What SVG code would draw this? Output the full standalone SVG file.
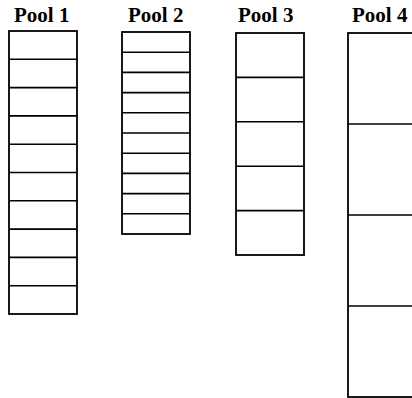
<svg xmlns="http://www.w3.org/2000/svg" width="412" height="398" viewBox="0 0 412 398">
<style>
.lbl{font-family:"Liberation Serif","Times New Roman",serif;font-weight:bold;font-size:21px;fill:#000}
.box{fill:none;stroke:#000;stroke-width:1.8}
.div{stroke:#000;stroke-width:1.6}
</style>
<rect width="412" height="398" fill="#fff"/>
<g id="pool1">
<text class="lbl" x="14" y="22">Pool 1</text>
<rect class="box" x="9" y="31" width="68" height="283"/>
<path class="div" d="M9 59.3H77M9 87.6H77M9 115.9H77M9 144.2H77M9 172.5H77M9 200.8H77M9 229.1H77M9 257.4H77M9 285.7H77"/>
</g>
<g id="pool2">
<text class="lbl" x="128" y="22">Pool 2</text>
<rect class="box" x="122" y="32" width="68" height="202"/>
<path class="div" d="M122 52.2H190M122 72.4H190M122 92.6H190M122 112.8H190M122 133H190M122 153.2H190M122 173.4H190M122 193.6H190M122 213.8H190"/>
</g>
<g id="pool3">
<text class="lbl" x="238" y="22">Pool 3</text>
<rect class="box" x="236" y="33" width="68" height="222"/>
<path class="div" d="M236 77.4H304M236 121.8H304M236 166.2H304M236 210.6H304"/>
</g>
<g id="pool4">
<text class="lbl" x="352" y="22">Pool 4</text>
<rect class="box" x="348" y="33" width="80" height="364"/>
<path class="div" d="M348 124H412M348 215H412M348 306H412"/>
</g>
</svg>
